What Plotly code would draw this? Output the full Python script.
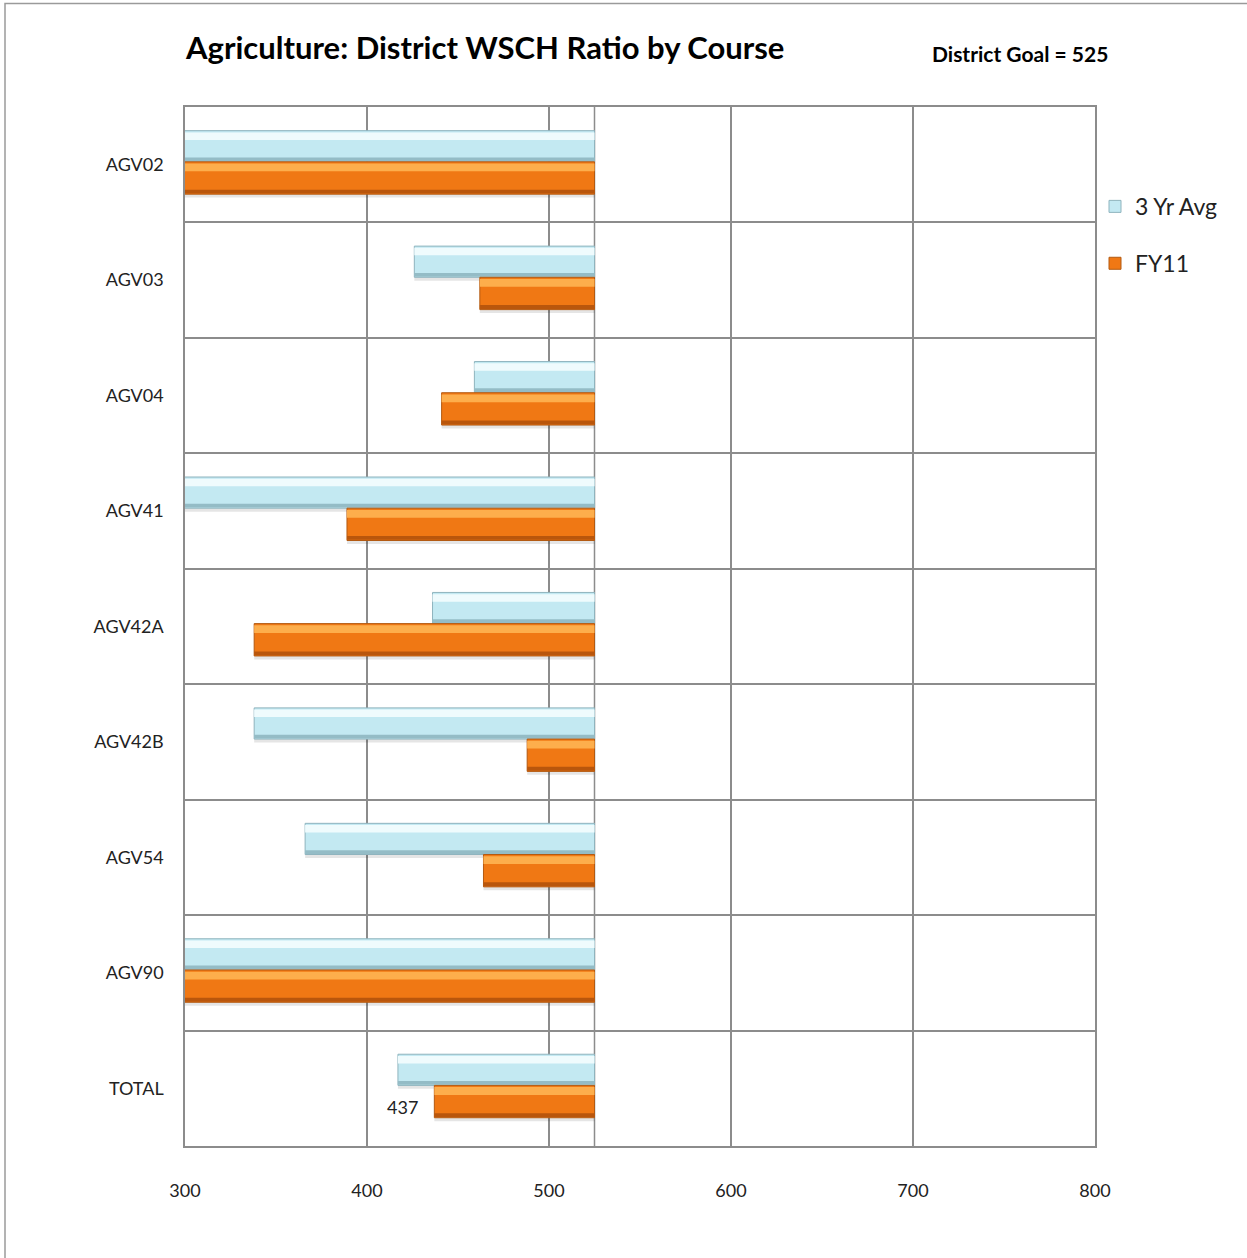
import plotly.graph_objects as go

# Course data: District WSCH ratio, drawn as bars from the district goal
courses = ["AGV02", "AGV03", "AGV04", "AGV41", "AGV42A", "AGV42B", "AGV54", "AGV90", "TOTAL"]
avg_3yr = [250, 426, 459, 260, 436, 338, 366, 250, 417]
fy11 = [250, 462, 441, 389, 338, 488, 464, 250, 437]
district_goal = 525
x_ticks = [300, 400, 500, 600, 700, 800]

FONT = "Lato, 'Open Sans', sans-serif"

# bar geometry within each category band (category units)
series = [
    dict(name="3 Yr Avg", values=avg_3yr, offset=-0.295, width=0.27,
         main="#c3e9f2", top="#effbfd", bottom="#94bcc6", edge="#8fb4be"),
    dict(name="FY11", values=fy11, offset=-0.025, width=0.28,
         main="#f07814", top="#fdae4c", bottom="#b9560c", edge="#b35a12"),
]

fig = go.Figure()

for s in series:
    lengths = [v - district_goal for v in s["values"]]
    # soft drop shadow
    fig.add_trace(go.Bar(
        y=courses, x=lengths, base=district_goal, orientation="h",
        offset=s["offset"] + 0.03, width=s["width"],
        marker=dict(color="rgba(0,0,0,0.10)", line=dict(width=0)),
        showlegend=False, hoverinfo="skip",
    ))
    # main body
    fig.add_trace(go.Bar(
        y=courses, x=lengths, base=district_goal, orientation="h",
        offset=s["offset"], width=s["width"], name=s["name"],
        marker=dict(color=s["main"], line=dict(color=s["edge"], width=1)),
        legendgroup=s["name"],
    ))
    # top highlight band
    fig.add_trace(go.Bar(
        y=courses, x=lengths, base=district_goal, orientation="h",
        offset=s["offset"] + 0.015, width=s["width"] * 0.24,
        marker=dict(color=s["top"], line=dict(width=0)),
        showlegend=False, hoverinfo="skip",
    ))
    # lower shading band
    fig.add_trace(go.Bar(
        y=courses, x=lengths, base=district_goal, orientation="h",
        offset=s["offset"] + s["width"] * 0.86, width=s["width"] * 0.12,
        marker=dict(color=s["bottom"], line=dict(width=0)),
        showlegend=False, hoverinfo="skip",
    ))

# value label on the TOTAL FY11 bar
fig.add_annotation(
    x=fy11[-1], y=courses[-1], text=str(fy11[-1]), showarrow=False,
    xanchor="right", yshift=-19, xshift=-14,
    font=dict(family=FONT, size=18, color="#222"),
)

# title and goal note
fig.add_annotation(
    xref="paper", yref="paper", x=0.3286, y=1.0577,
    text="<b>Agriculture: District WSCH Ratio by Course</b>", showarrow=False,
    xanchor="center", yanchor="middle",
    font=dict(family=FONT, size=31, color="#000"),
)
fig.add_annotation(
    xref="paper", yref="paper", x=0.918, y=1.0515,
    text="<b>District Goal = 525</b>", showarrow=False,
    xanchor="center", yanchor="middle",
    font=dict(family=FONT, size=21, color="#000"),
)

# goal axis line
fig.add_shape(type="line", xref="x", yref="paper",
              x0=district_goal, x1=district_goal, y0=0, y1=1,
              line=dict(color="#8c8c8c", width=1.5), layer="below")

# outer chart frame
fig.add_shape(type="rect", xref="paper", yref="paper",
              x0=-0.1978, x1=1.2, y0=1.0996, y1=-0.2,
              line=dict(color="#9a9a9a", width=1.5), layer="below")

fig.update_layout(
    width=1247, height=1258,
    margin=dict(l=185, r=152, t=107, b=112),
    paper_bgcolor="white", plot_bgcolor="white",
    barmode="overlay",
    font=dict(family=FONT, size=18, color="#222"),
    showlegend=True,
    legend=dict(
        x=1.0, y=0.925, xanchor="left", yanchor="top",
        font=dict(family=FONT, size=23, color="#222"),
        tracegroupgap=24, traceorder="grouped",
        bgcolor="rgba(0,0,0,0)",
    ),
    xaxis=dict(
        range=[300, 800], tickvals=x_ticks, ticktext=[str(t) for t in x_ticks],
        showgrid=True, gridcolor="#8c8c8c", gridwidth=1.5,
        showline=True, linecolor="#8c8c8c", linewidth=1.5, mirror=True,
        zeroline=False, ticks="", ticklabelstandoff=28,
        tickfont=dict(family=FONT, size=18, color="#222"),
    ),
    yaxis=dict(
        type="category", categoryorder="array", categoryarray=courses,
        autorange="reversed", tickson="boundaries",
        showgrid=True, gridcolor="#8c8c8c", gridwidth=1.5,
        showline=True, linecolor="#8c8c8c", linewidth=1.5, mirror=True,
        ticks="", ticklabelstandoff=16,
        tickfont=dict(family=FONT, size=18, color="#222"),
    ),
)

fig.write_html("out.html")
